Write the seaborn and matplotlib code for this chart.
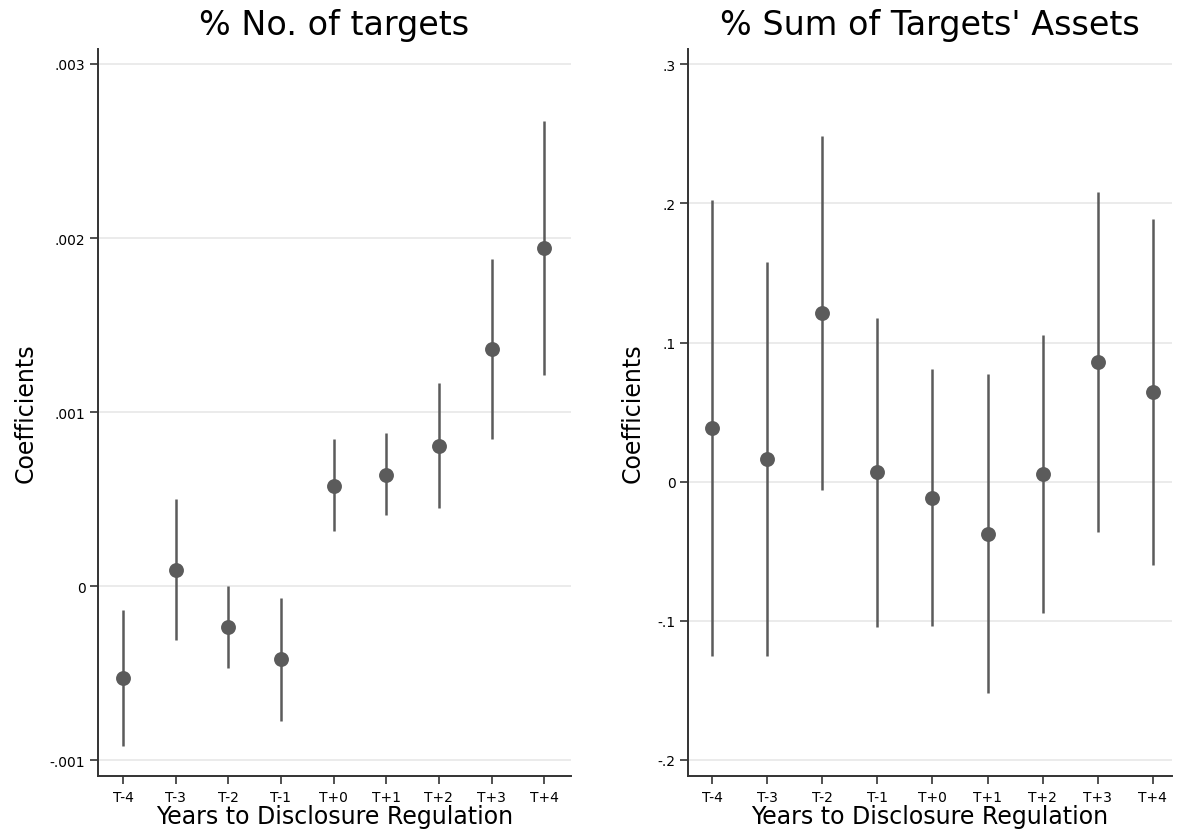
import numpy as np
import pandas as pd
import seaborn as sns
import matplotlib
matplotlib.use("Agg")
import matplotlib.pyplot as plt

# ---- data ----
periods = ["T-4", "T-3", "T-2", "T-1", "T+0", "T+1", "T+2", "T+3", "T+4"]

n_coef = [-0.000526, 0.000096, -0.000236, -0.000418, 0.000578, 0.000641, 0.000806, 0.001362, 0.001943]
n_lo = [-0.000917, -0.000307, -0.000472, -0.000774, 0.000315, 0.000407, 0.000451, 0.000848, 0.001213]
n_hi = [-0.000134, 0.000503, 0.000000, -0.000065, 0.000843, 0.000879, 0.001167, 0.001880, 0.002670]

a_coef = [0.0385, 0.0160, 0.1211, 0.0067, -0.0117, -0.0373, 0.0055, 0.0861, 0.0644]
a_lo = [-0.1249, -0.1254, -0.0057, -0.1045, -0.1040, -0.1517, -0.0943, -0.0361, -0.0596]
a_hi = [0.2026, 0.1579, 0.2483, 0.1177, 0.0809, 0.0773, 0.1057, 0.2084, 0.1885]

n_ticks = [-0.001, 0.0, 0.001, 0.002, 0.003]
n_ticklabels = ["-.001", "0", ".001", ".002", ".003"]
a_ticks = [-0.2, -0.1, 0.0, 0.1, 0.2, 0.3]
a_ticklabels = ["-.2", "-.1", "0", ".1", ".2", ".3"]

titles = ["% No. of targets", "% Sum of Targets' Assets"]
xlabel = "Years to Disclosure Regulation"
ylabel = "Coefficients"

sns.set_theme(style="white")
plt.rcParams['font.family'] = ['DejaVu Sans']
plt.rcParams['text.color'] = 'black'
plt.rcParams['axes.labelcolor'] = 'black'
plt.rcParams['xtick.color'] = '#333333'
plt.rcParams['ytick.color'] = '#333333'
plt.rcParams['xtick.labelcolor'] = 'black'
plt.rcParams['ytick.labelcolor'] = 'black'

fig = plt.figure(figsize=(11.87, 8.37), dpi=100)
ax1 = fig.add_axes([98/1187, 1-777/837, 473/1187, 727/837])
ax2 = fig.add_axes([688/1187, 1-777/837, 484/1187, 727/837])

col = "#5b5b5b"

panels = [
    (ax1, n_coef, n_lo, n_hi, n_ticks, n_ticklabels, (-0.00109, 0.003086), (-0.475, 8.51), titles[0]),
    (ax2, a_coef, a_lo, a_hi, a_ticks, a_ticklabels, (-0.2115, 0.311), (-0.44, 8.35), titles[1]),
]

for ax, coef, lo, hi, ticks, tlabels, ylim, xlim, title in panels:
    df = pd.DataFrame({"period": periods, "coef": coef, "lo": lo, "hi": hi})
    for t in ticks:
        ax.axhline(t, color="#e8e8e8", lw=1.2, zorder=0)
    ax.vlines(df["period"], df["lo"], df["hi"], color=col, lw=1.8, zorder=2)
    sns.scatterplot(data=df, x="period", y="coef", ax=ax, color=col, s=115,
                    edgecolor=col, linewidth=0, zorder=3)
    ax.set_xlim(*xlim)
    ax.set_ylim(*ylim)
    ax.set_yticks(ticks)
    ax.set_yticklabels(tlabels, fontsize=10)
    ax.tick_params(axis="x", labelsize=10, length=6, width=1.2, direction="out", pad=4)
    ax.tick_params(axis="y", length=6, width=1.2, direction="out", pad=3)
    ax.tick_params(left=True, bottom=True)
    for s in ["top", "right"]:
        ax.spines[s].set_visible(False)
    for s in ["left", "bottom"]:
        ax.spines[s].set_color("#333333")
        ax.spines[s].set_linewidth(1.4)
    ax.set_xlabel(xlabel, fontsize=17, labelpad=0, color="black")
    ax.set_ylabel(ylabel, fontsize=17, labelpad=9, color="black")
    ax.set_title(title, fontsize=24, pad=11, color="black")
    ax.grid(False)

fig.savefig("out.png", dpi=100)
